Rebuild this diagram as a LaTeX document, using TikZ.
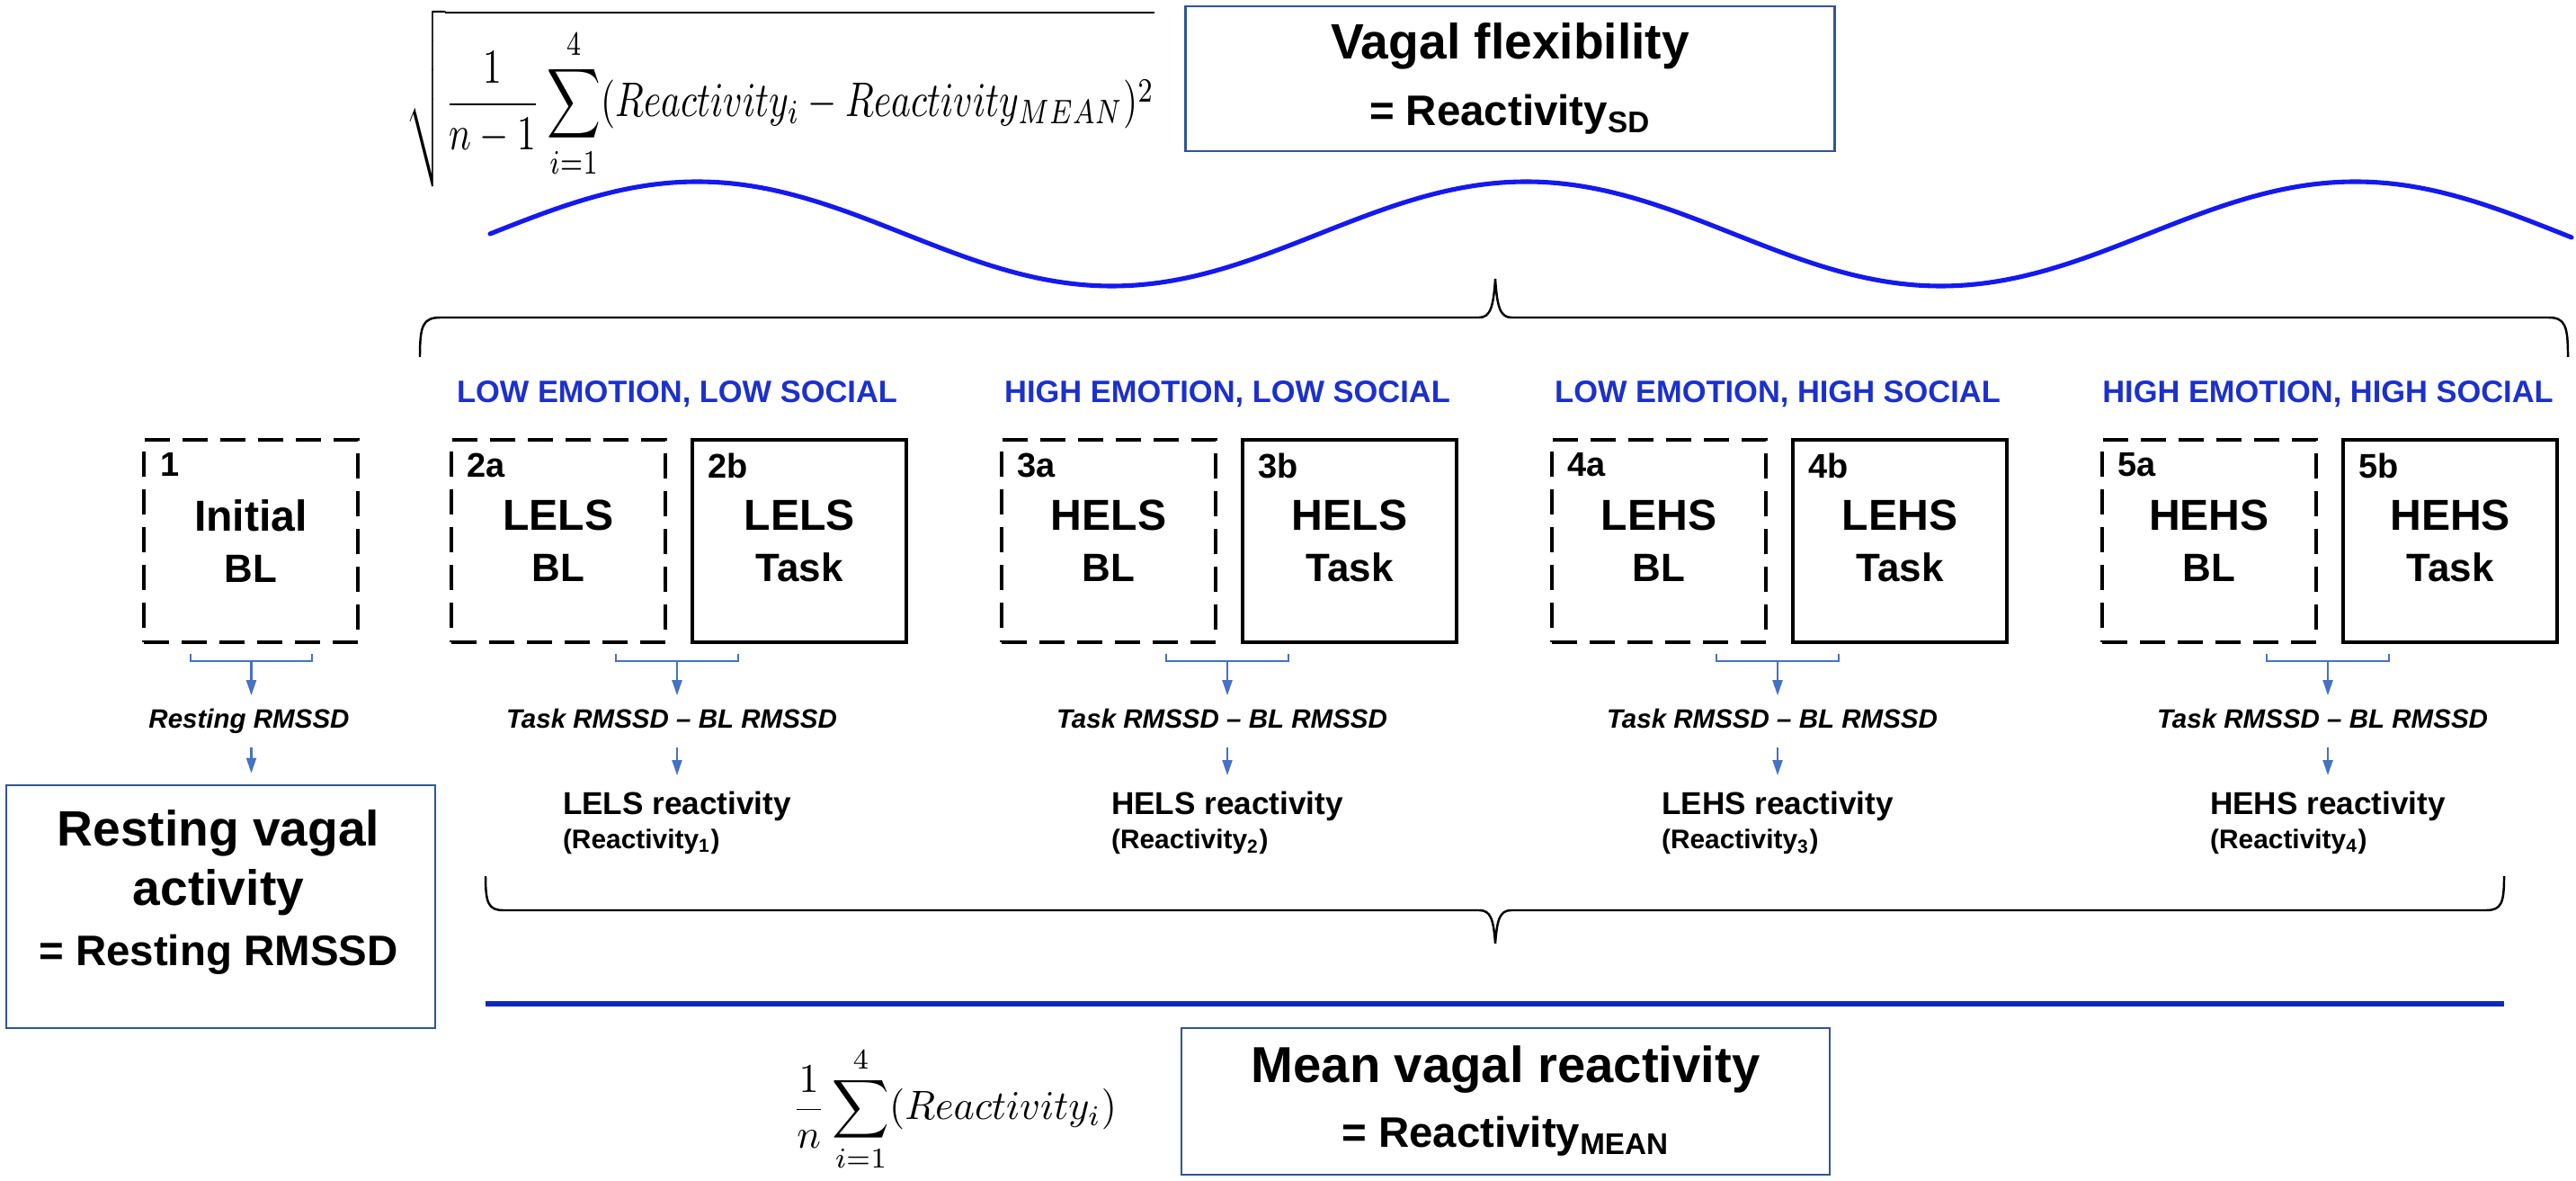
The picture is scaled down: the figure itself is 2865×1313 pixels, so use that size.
\documentclass[tikz,border=0pt]{standalone}
\usepackage[no-math]{fontspec}
\setmainfont{Liberation Sans}
\usepackage{graphicx}
\usetikzlibrary{arrows.meta}
\definecolor{boxblue}{RGB}{47,85,151}
\definecolor{labelblue}{RGB}{28,48,205}
\definecolor{arrowblue}{RGB}{68,114,196}
\definecolor{waveblue}{RGB}{20,25,240}
\definecolor{lineblue}{RGB}{16,40,190}
\newcommand{\fsz}[2]{\fontsize{#1}{#2}\selectfont}
\tikzset{
  blbox/.style={draw=black, line width=1.1pt, dash pattern=on 2.8mm off 1.4mm,
    minimum width=23.8mm, minimum height=22.5mm, inner sep=0pt, align=center,
    anchor=north west, font=\bfseries\fsz{13.7}{16.2}},
  taskbox/.style={blbox, solid, line width=1.2pt},
  boxnum/.style={anchor=north west, inner sep=0pt, font=\bfseries\fsz{10.8}{12}},
  grouplabel/.style={text=labelblue, inner sep=0pt, font=\bfseries\fsz{9.8}{12}},
  calcnode/.style={inner xsep=0pt, inner ysep=4pt, text height=6.2pt, text depth=1.8pt,
    font=\bfseries\itshape\fsz{8.4}{10}},
  reactnode/.style={anchor=north, align=left, inner xsep=0pt, inner ysep=1.7mm,
    font=\bfseries\fsz{10}{10.8}},
  infobox/.style={draw=boxblue, line width=0.8pt, inner sep=0pt},
  bluebracket/.style={arrowblue, line width=0.6pt},
  bluearrow/.style={arrowblue, line width=0.6pt, -{Triangle[length=1.7mm, width=1.1mm]}},
  bracepath/.style={black, line width=0.7pt},
}
\begin{document}
\begin{tikzpicture}[x=0.1mm, y=-0.1mm]
\useasboundingbox (0,0) rectangle (2865,1313);

% ---- top: vagal flexibility
\node[inner sep=0pt] (sdformula) at (867.5,109)
  {\resizebox*{83.3mm}{19.7mm}{$\displaystyle\sqrt{\frac{1}{n-1}\sum_{i=1}^{4}(Reactivity_i -Reactivity_{MEAN})^2}$}};
\node[infobox, minimum width=72.2mm, minimum height=16.1mm, align=center,
  font=\bfseries\fsz{15.7}{21.3}] (flex) at (1679.5,87.5)
  {Vagal flexibility\\{\fsz{13.5}{21.3}= Reactivity\textsubscript{SD}}};

\draw[waveblue, line width=1.45pt, line cap=round]
  plot[domain=545:2860, samples=240, smooth] (\x,{260-58*sin((\x-545)/922*360)});

\draw[bracepath] (467,397) .. controls (467,362) and (470,353) .. (490,353)
  -- (1645,353) .. controls (1658,353) and (1661,340) .. (1663,310)
  .. controls (1665,340) and (1668,353) .. (1681,353)
  -- (2834,353) .. controls (2853,353) and (2856,362) .. (2856,397);

% ---- initial baseline
\node[blbox] (bl1) at (158,487) {Initial\\{\fsz{12.5}{16.2}BL}};
\node[boxnum] (num1) at ([xshift=2mm,yshift=-1.6mm]bl1.north west) {1};
\draw[bluebracket] (212,727) -- (212,735) -- (347,735) -- (347,727);
\coordinate (brk1) at (279.5,735);
\node[calcnode] (calc1) at (277,802) {Resting RMSSD};
\draw[bluearrow] (brk1) -- (brk1 |- calc1.north);
\node[infobox, minimum width=47.7mm, minimum height=27mm] (rest) at (245.5,1008) {};
\node[align=center, inner sep=0pt, font=\bfseries\fsz{15.7}{19}] (resttxt) at (243,992)
  {Resting vagal\\activity\\{\fsz{13.5}{19.5}= Resting RMSSD}};
\draw[bluearrow, shorten >=1.2mm] (brk1 |- calc1.south) -- (brk1 |- rest.north);

% ---- four conditions
\foreach \k/\r/\a/\code/\grp in {
  2/1/500/LELS/{LOW EMOTION, LOW SOCIAL},
  3/2/1112/HELS/{HIGH EMOTION, LOW SOCIAL},
  4/3/1724/LEHS/{LOW EMOTION, HIGH SOCIAL},
  5/4/2336/HEHS/{HIGH EMOTION, HIGH SOCIAL}} {
  \pgfmathsetmacro\bx{\a+268}
  \pgfmathsetmacro\pc{\a+253}
  \node[blbox] (bl\k) at (\a,487) {\code\\{\fsz{12.5}{16.2}BL}};
  \node[taskbox] (task\k) at (\bx,487) {\code\\{\fsz{12.5}{16.2}Task}};
  \node[boxnum] (numa\k) at ([xshift=1.9mm,yshift=-1.6mm]bl\k.north west) {\k a};
  \node[boxnum] (numb\k) at ([xshift=1.9mm,yshift=-1.6mm]task\k.north west) {\k b};
  \node[grouplabel] (grp\k) at (\pc,438) {\grp};
  \draw[bluebracket] (\pc-68,727) -- (\pc-68,735) -- (\pc+68,735) -- (\pc+68,727);
  \coordinate (brk\k) at (\pc,735);
  \node[calcnode] (calc\k) at (\pc-6,802) {Task RMSSD – BL RMSSD};
  \draw[bluearrow] (brk\k) -- (brk\k |- calc\k.north);
  \node[reactnode] (react\k) at (\pc,862)
    {\code\ reactivity\\{\fsz{8.5}{10.8}(Reactivity\textsubscript{\r})}};
  \draw[bluearrow] (react\k.north |- calc\k.south) -- (react\k.north);
}

% ---- bottom: mean vagal reactivity
\draw[bracepath] (540,974) .. controls (540,1004) and (543,1012) .. (560,1012)
  -- (1645,1012) .. controls (1658,1012) and (1661,1022) .. (1663,1049)
  .. controls (1665,1022) and (1668,1012) .. (1681,1012)
  -- (2765,1012) .. controls (2782,1012) and (2785,1004) .. (2785,974);
\draw[lineblue, line width=1.5pt] (540,1116) -- (2785,1116);
\node[inner sep=0pt] (meanformula) at (1061.5,1233)
  {\resizebox*{36.1mm}{14mm}{$\displaystyle\frac{1}{n}\sum_{i=1}^{4}(Reactivity_i)$}};
\node[infobox, minimum width=72.1mm, minimum height=16.3mm, align=center,
  font=\bfseries\fsz{16}{20.5}] (mean) at (1674.5,1224.5)
  {Mean vagal reactivity\\{\fsz{13.5}{20.5}= Reactivity\textsubscript{MEAN}}};
\end{tikzpicture}
\end{document}
